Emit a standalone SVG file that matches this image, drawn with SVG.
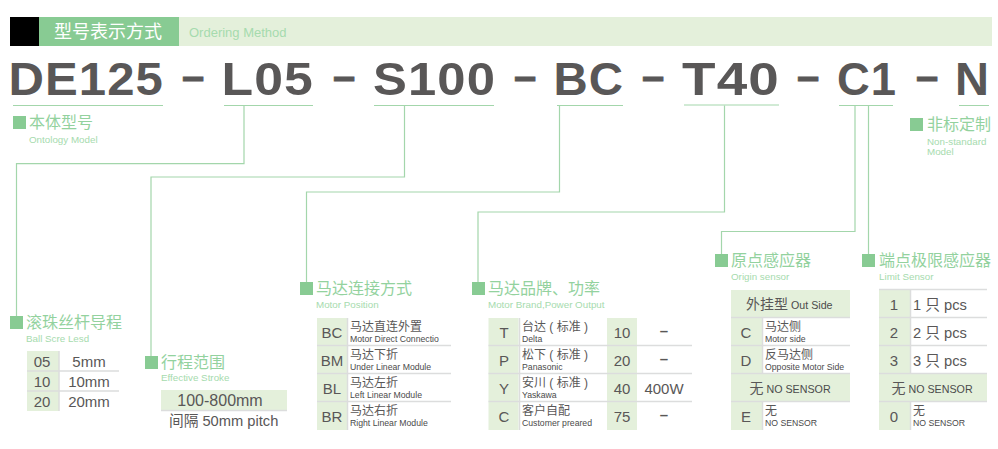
<svg xmlns="http://www.w3.org/2000/svg" width="998" height="449" viewBox="0 0 998 449">
<style>
text{font-family:"Liberation Sans","Noto Sans CJK SC",sans-serif}
.lt{fill:#e4f0db}
.sq{fill:#88cb93}
.rule{stroke:#dcdddd;stroke-width:1.5;fill:none}
.u{stroke:#a3d6ab;stroke-width:1;fill:none}
.conn{stroke:#a3d6ab;stroke-width:1.2;fill:none}
.big{font-size:46px;font-weight:bold;fill:#595757;letter-spacing:1px}
.dash{font-size:40px;font-weight:bold;fill:#595757;stroke:#595757;stroke-width:.8}
.t{font-size:16px;fill:#93d29e}
.s{font-size:9.800px;fill:#a6dbae}
.c{font-size:15px;fill:#595757;text-anchor:middle}
.l{font-size:14.700px;fill:#595757}
.cn{font-size:12px;fill:#595757}
.en{font-size:8.700px;fill:#4b4b4b}
.m{font-size:10.700px;fill:#4b4b4b}
</style>
<g id="header">
<rect x="10" y="17" width="29" height="29" fill="#000"/>
<rect x="39" y="17" width="140" height="29" fill="#88cb93"/>
<rect x="179" y="17" width="813" height="29" class="lt"/>
<text x="54" y="38" font-size="18" fill="#fff">型号表示方式</text>
<text x="189" y="37" font-size="13" fill="#a6dbae">Ordering Method</text>
</g>
<g id="code">
<text x="8.500" y="94.500" class="big" textLength="155.500" lengthAdjust="spacingAndGlyphs">DE125</text>
<text x="221.500" y="94.500" class="big" textLength="92.500" lengthAdjust="spacingAndGlyphs">L05</text>
<text x="373" y="94.500" class="big" textLength="123" lengthAdjust="spacingAndGlyphs">S100</text>
<text x="553.500" y="94.500" class="big" textLength="70.500" lengthAdjust="spacingAndGlyphs">BC</text>
<text x="682" y="94.500" class="big" textLength="98" lengthAdjust="spacingAndGlyphs">T40</text>
<text x="837" y="94.500" class="big" textLength="60" lengthAdjust="spacingAndGlyphs">C1</text>
<text x="955" y="94.500" class="big" textLength="35" lengthAdjust="spacingAndGlyphs">N</text>
<text x="182" y="90.300" class="dash">–</text>
<text x="333" y="90.300" class="dash">–</text>
<text x="514" y="90.300" class="dash">–</text>
<text x="642" y="90.300" class="dash">–</text>
<text x="797" y="90.300" class="dash">–</text>
<text x="916" y="90.300" class="dash">–</text>
</g>
<g id="connectors">
<path class="u" d="M13 105.500H163M224 105.500H313M374 105.500H494M557 105.500H623M684 105H779M839 105.500H893M959 105.500H989"/>
<path class="conn" d="M244 105.500V163.700H16.500V316"/>
<path class="conn" d="M404.500 105.500V177H151V356"/>
<path class="conn" d="M559.500 105.500V192H306.500V282"/>
<path class="conn" d="M724.500 105.500V212H478V282"/>
<path class="conn" d="M855 105.500V231.500H721.500V254"/>
<path class="conn" d="M868.500 105.500V254"/>
</g>
<g id="node-body">
<rect class="sq" x="13" y="116" width="13" height="13"/>
<text class="t" x="29" y="128">本体型号</text>
<text class="s" x="29" y="143">Ontology Model</text>
</g>
<g id="node-nonstandard">
<rect class="sq" x="910" y="118" width="13" height="13"/>
<text class="t" x="927" y="130">非标定制</text>
<text class="s" x="927" y="145">Non-standard</text>
<text class="s" x="927" y="155">Model</text>
</g>
<g id="node-lead">
<rect class="sq" x="10" y="316" width="13" height="13"/>
<text class="t" x="26" y="328">滚珠丝杆导程</text>
<text class="s" x="26" y="342">Ball Scre Lesd</text>
<rect class="lt" x="27" y="351" width="32" height="60"/>
<path class="rule" d="M59 351V411M27 371H119M27 391H119"/>
<text class="c" x="42" y="367">05</text><text class="c" x="89" y="367">5mm</text>
<text class="c" x="42" y="387">10</text><text class="c" x="89" y="387">10mm</text>
<text class="c" x="42" y="407">20</text><text class="c" x="89" y="407">20mm</text>
</g>
<g id="node-stroke">
<rect class="sq" x="145" y="356" width="13" height="13"/>
<text class="t" x="161" y="368">行程范围</text>
<text class="s" x="161" y="381">Effective Stroke</text>
<rect class="lt" x="161" y="390" width="126" height="20"/>
<path class="rule" d="M161 410.500H287"/>
<text class="c" x="220" y="406" style="font-size:16px">100-800mm</text>
<text class="l" x="169" y="426">间隔 50mm pitch</text>
</g>
<g id="node-position">
<rect class="sq" x="300" y="282" width="13" height="13"/>
<text class="t" x="316" y="294">马达连接方式</text>
<text class="s" x="316" y="308">Motor Position</text>
<rect class="lt" x="317" y="318" width="30" height="112"/>
<path class="rule" d="M347.500 318V430M317 345.500H451M317 373.500H451M317 401.500H451"/>
<text class="c" x="332" y="338">BC</text><text class="cn" x="350" y="331">马达直连外置</text><text class="en" x="350" y="342">Motor Direct Connectio</text>
<text class="c" x="332" y="366">BM</text><text class="cn" x="350" y="359">马达下折</text><text class="en" x="350" y="370">Under Linear Module</text>
<text class="c" x="332" y="394">BL</text><text class="cn" x="350" y="387">马达左折</text><text class="en" x="350" y="398">Left Linear Module</text>
<text class="c" x="332" y="422">BR</text><text class="cn" x="350" y="415">马达右折</text><text class="en" x="350" y="426">Right Linear Module</text>
</g>
<g id="node-brand">
<rect class="sq" x="472" y="282" width="13" height="13"/>
<text class="t" x="488" y="294">马达品牌、功率</text>
<text class="s" x="488" y="308">Motor Brand,Power Output</text>
<rect class="lt" x="488.500" y="318" width="30" height="112"/>
<rect class="lt" x="607" y="318" width="30" height="112"/>
<path class="rule" d="M519.500 318V430M488.500 345.500H692M488.500 373.500H692M488.500 401.500H692"/>
<text class="c" x="504" y="338">T</text><text class="cn" x="522" y="331">台达 ( 标准 )</text><text class="en" x="522" y="342">Delta</text>
<text class="c" x="622" y="338">10</text><text class="c" x="664" y="336" font-weight="bold">–</text>
<text class="c" x="504" y="366">P</text><text class="cn" x="522" y="359">松下 ( 标准 )</text><text class="en" x="522" y="370">Panasonic</text>
<text class="c" x="622" y="366">20</text><text class="c" x="664" y="364" font-weight="bold">–</text>
<text class="c" x="504" y="394">Y</text><text class="cn" x="522" y="387">安川 ( 标准 )</text><text class="en" x="522" y="398">Yaskawa</text>
<text class="c" x="622" y="394">40</text><text class="c" x="664" y="394">400W</text>
<text class="c" x="504" y="422">C</text><text class="cn" x="522" y="415">客户自配</text><text class="en" x="522" y="426">Customer preared</text>
<text class="c" x="622" y="422">75</text><text class="c" x="664" y="420" font-weight="bold">–</text>
</g>
<g id="node-origin">
<rect class="sq" x="715" y="254" width="13" height="13"/>
<text class="t" x="731" y="266">原点感应器</text>
<text class="s" x="731" y="280">Origin sensor</text>
<rect class="lt" x="731" y="290" width="119" height="27"/>
<rect class="lt" x="731" y="318" width="31" height="112"/>
<rect class="lt" x="731" y="374" width="119" height="27"/>
<path class="rule" d="M731 317.500H850M762.500 318V373M731 345.500H850M731 373.500H850M731 401.500H850M762.500 402V430"/>
<text x="746" y="309"><tspan style="font-size:14px;fill:#595757">外挂型</tspan><tspan class="m"> Out Side</tspan></text>
<text class="c" x="746" y="338">C</text><text class="cn" x="765" y="331">马达侧</text><text class="en" x="765" y="342">Motor side</text>
<text class="c" x="746" y="366">D</text><text class="cn" x="765" y="359">反马达侧</text><text class="en" x="765" y="370">Opposite Motor Side</text>
<text x="749.500" y="393"><tspan style="font-size:14px;fill:#595757">无</tspan><tspan class="m"> NO SENSOR</tspan></text>
<text class="c" x="746" y="422">E</text><text class="cn" x="765" y="415">无</text><text class="en" x="765" y="426">NO SENSOR</text>
</g>
<g id="node-limit">
<rect class="sq" x="862" y="254" width="13" height="13"/>
<text class="t" x="879" y="266">端点极限感应器</text>
<text class="s" x="879" y="280">Limit Sensor</text>
<rect class="lt" x="879" y="290" width="31" height="140"/>
<rect class="lt" x="879" y="374" width="108" height="27"/>
<path class="rule" d="M879 289.500H987M910.500 290V373M879 317.500H987M879 345.500H987M879 373.500H987M879 401.500H987M910.500 402V430"/>
<text class="c" x="894" y="310">1</text><text class="l" x="913" y="310">1 只 pcs</text>
<text class="c" x="894" y="338">2</text><text class="l" x="913" y="338">2 只 pcs</text>
<text class="c" x="894" y="366">3</text><text class="l" x="913" y="366">3 只 pcs</text>
<text x="891.500" y="393"><tspan style="font-size:14px;fill:#595757">无</tspan><tspan class="m"> NO SENSOR</tspan></text>
<text class="c" x="894" y="422">0</text><text class="cn" x="913" y="415">无</text><text class="en" x="913" y="426">NO SENSOR</text>
</g>
</svg>
